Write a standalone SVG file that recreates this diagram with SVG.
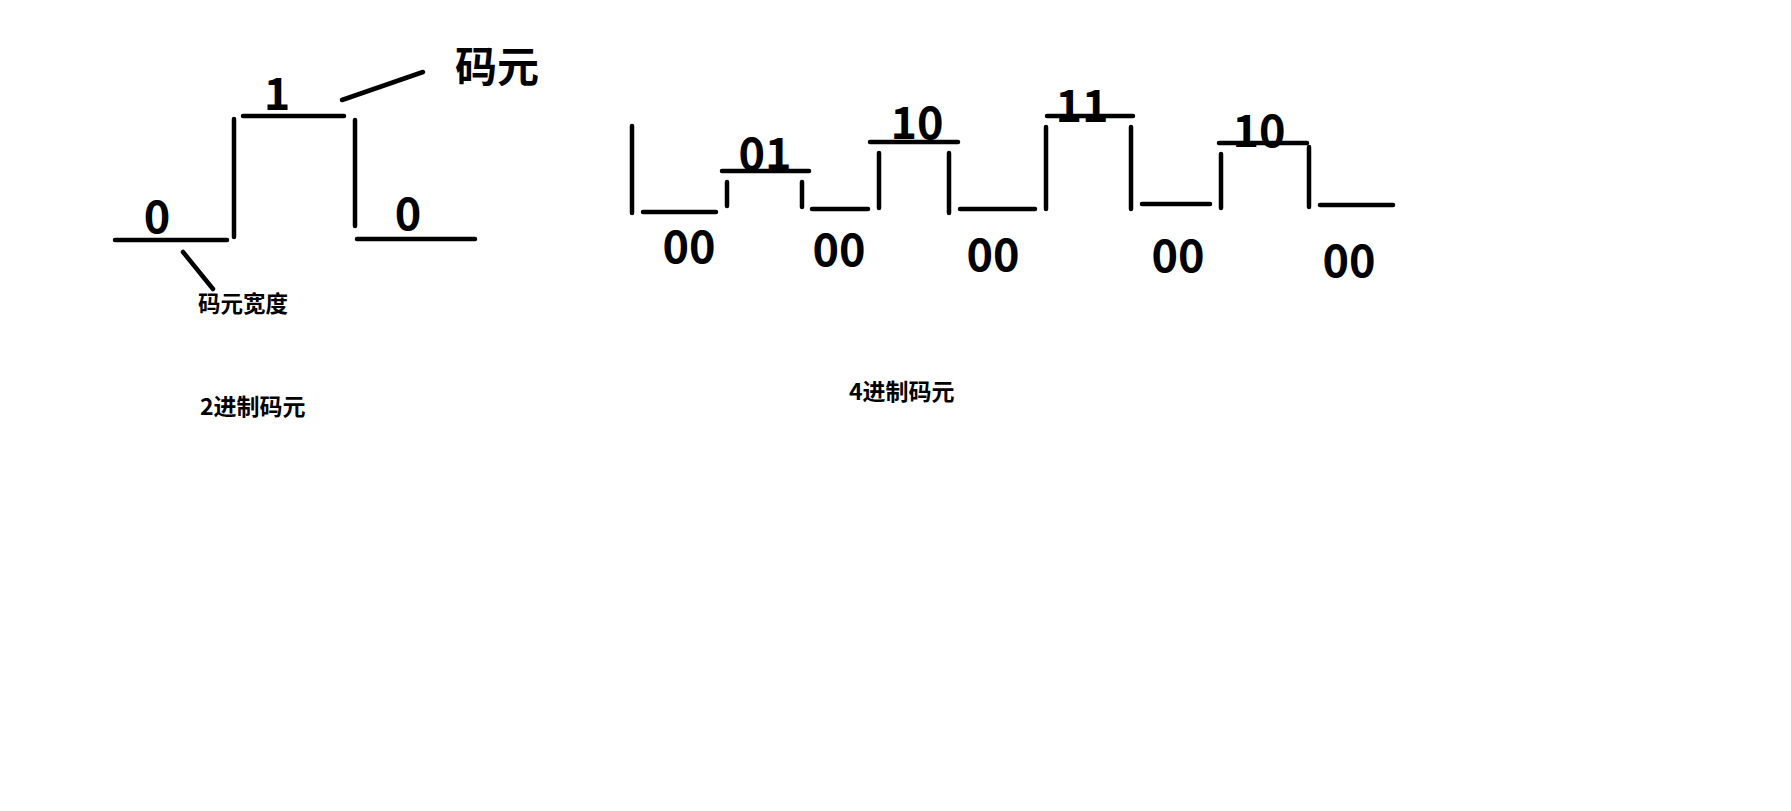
<svg xmlns="http://www.w3.org/2000/svg" width="1791" height="811" viewBox="0 0 1791 811">
<style>
.l{stroke:#000;stroke-width:4.5;stroke-linecap:round;fill:none}
.d{font-family:"Noto Sans CJK SC","Noto Sans",sans-serif;font-weight:bold;font-size:45px;fill:#000;text-anchor:middle}
.c{font-family:"Noto Sans CJK SC",sans-serif;font-weight:bold;fill:#000}
</style>
<rect width="1791" height="811" fill="#fff"/>
<g id="connectors">
<line class="l" x1="115" y1="240" x2="227" y2="240"/>
<line class="l" x1="234" y1="119" x2="234" y2="237"/>
<line class="l" x1="243" y1="116" x2="344" y2="116"/>
<line class="l" x1="355" y1="120" x2="355" y2="226"/>
<line class="l" x1="357" y1="239" x2="475" y2="239"/>
<line class="l" x1="342" y1="100" x2="423" y2="72"/>
<line class="l" x1="183" y1="252" x2="213" y2="289"/>
<line class="l" x1="632" y1="126" x2="632" y2="213"/>
<line class="l" x1="643" y1="212" x2="716" y2="212"/>
<line class="l" x1="727" y1="182" x2="727" y2="206"/>
<line class="l" x1="722" y1="171" x2="809" y2="171"/>
<line class="l" x1="802" y1="182" x2="802" y2="207"/>
<line class="l" x1="812" y1="209" x2="868" y2="209"/>
<line class="l" x1="879" y1="153" x2="879" y2="208"/>
<line class="l" x1="870" y1="142" x2="958" y2="142"/>
<line class="l" x1="949" y1="153" x2="949" y2="213"/>
<line class="l" x1="960" y1="209" x2="1035" y2="209"/>
<line class="l" x1="1046" y1="127" x2="1046" y2="209"/>
<line class="l" x1="1047" y1="116" x2="1133" y2="116"/>
<line class="l" x1="1131" y1="127" x2="1131" y2="209"/>
<line class="l" x1="1142" y1="204" x2="1210" y2="204"/>
<line class="l" x1="1221" y1="154" x2="1221" y2="208"/>
<line class="l" x1="1219" y1="143" x2="1307" y2="143"/>
<line class="l" x1="1309" y1="147" x2="1309" y2="207"/>
<line class="l" x1="1320" y1="205" x2="1393" y2="205"/>
</g>
<g id="bin-labels">
<text class="d" x="157" y="233">0</text>
<text class="d" x="277" y="110">1</text>
<text class="d" x="408" y="230">0</text>
</g>
<g id="symbol-label"><text class="c" x="455" y="82" font-size="42">码元</text></g>
<g id="width-label"><text class="c" x="198" y="312" font-size="22.5">码元宽度</text></g>
<g id="bin-title"><text class="c" x="200" y="415" font-size="23">2进制码元</text></g>
<g id="quad-title"><text class="c" x="849" y="400" font-size="23">4进制码元</text></g>
<g id="quad-labels">
<text class="d" x="689" y="263">00</text>
<text class="d" x="765" y="170">01</text>
<text class="d" x="839" y="266">00</text>
<text class="d" x="917" y="139">10</text>
<text class="d" x="993" y="271">00</text>
<text class="d" x="1082" y="122">11</text>
<text class="d" x="1178" y="272">00</text>
<text class="d" x="1259" y="147">10</text>
<text class="d" x="1349" y="277">00</text>
</g>
</svg>
